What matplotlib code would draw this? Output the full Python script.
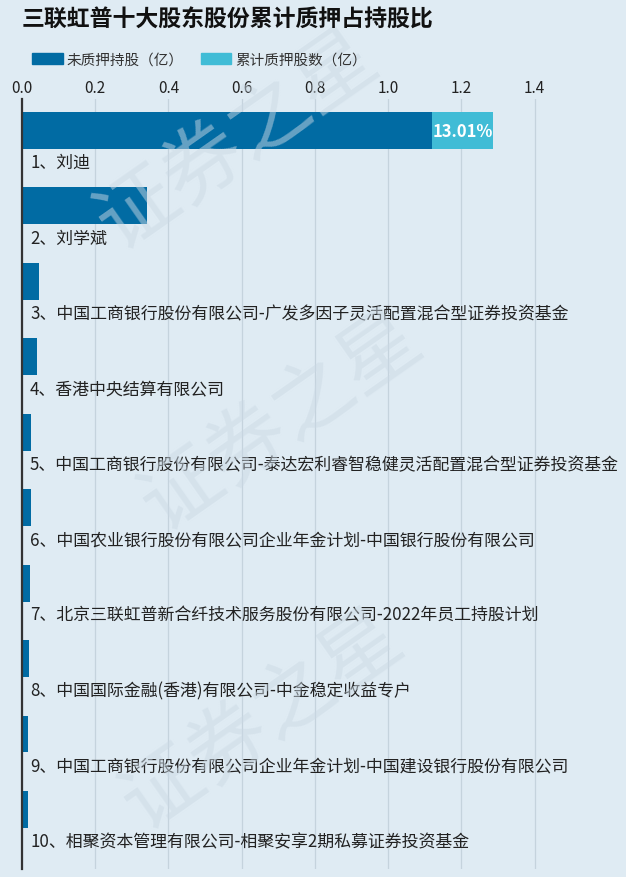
import matplotlib
matplotlib.use("Agg")
import matplotlib.pyplot as plt
from matplotlib.patches import Patch

plt.rcParams['font.family'] = ['Noto Sans CJK SC', 'DejaVu Sans']

# data (亿股)
holders = [
    "1、刘迪",
    "2、刘学斌",
    "3、中国工商银行股份有限公司-广发多因子灵活配置混合型证券投资基金",
    "4、香港中央结算有限公司",
    "5、中国工商银行股份有限公司-泰达宏利睿智稳健灵活配置混合型证券投资基金",
    "6、中国农业银行股份有限公司企业年金计划-中国银行股份有限公司",
    "7、北京三联虹普新合纤技术服务股份有限公司-2022年员工持股计划",
    "8、中国国际金融(香港)有限公司-中金稳定收益专户",
    "9、中国工商银行股份有限公司企业年金计划-中国建设银行股份有限公司",
    "10、相聚资本管理有限公司-相聚安享2期私募证券投资基金",
]
unpledged = [1.120, 0.341, 0.046, 0.041, 0.025, 0.025, 0.022, 0.020, 0.017, 0.017]
pledged = [0.167, 0, 0, 0, 0, 0, 0, 0, 0, 0]
pct_labels = ["13.01%", "", "", "", "", "", "", "", "", ""]
xticks = [0.0, 0.2, 0.4, 0.6, 0.8, 1.0, 1.2, 1.4]

bg = "#dfebf3"
c_dark = "#016ba3"
c_light = "#40bcd6"

fig = plt.figure(figsize=(6.26, 8.78), dpi=100, facecolor=bg)
ax = fig.add_axes([0.0351, 0.0091, 0.936, 0.877])
ax.set_facecolor(bg)

y = list(range(len(holders)))
ax.barh(y, unpledged, height=0.49, color=c_dark, zorder=3)
ax.barh(y, pledged, left=unpledged, height=0.49, color=c_light, zorder=3)

for i, name in enumerate(holders):
    ax.text(0.022, i + 0.42, name, fontsize=12.2, color="#222222", va="center", ha="left", zorder=4)
    if pct_labels[i]:
        ax.text(unpledged[i] + pledged[i], i, pct_labels[i], fontsize=12, fontweight="bold",
                color="white", va="center", ha="right", zorder=5)

ax.set_xlim(0, 1.6)
ax.set_ylim(9.79, -0.418)
ax.set_xticks(xticks)
ax.set_xticklabels([f"{t:.1f}" for t in xticks], fontsize=11, color="#222222")
ax.xaxis.tick_top()
ax.tick_params(axis="x", length=0, pad=2)
ax.set_yticks([])
ax.grid(axis="x", color="#c5d3dd", linewidth=0.9, zorder=0)
for s in ["top", "right", "bottom"]:
    ax.spines[s].set_visible(False)
ax.spines["left"].set_color("#333333")
ax.spines["left"].set_linewidth(1.6)
ax.spines["left"].set_zorder(6)

# watermark
for (wx, wy) in [(0.38, 0.84), (0.45, 0.52), (0.42, 0.18)]:
    fig.text(wx, wy, "证券之星", fontsize=58, color="#cbd9e4", alpha=0.5, rotation=35,
             ha="center", va="center", zorder=0)

fig.text(0.035, 0.977, "三联虹普十大股东股份累计质押占持股比", fontsize=16.5, fontweight="bold",
         color="#111111", ha="left", va="center")

handles = [Patch(color=c_dark), Patch(color=c_light)]
fig.legend(handles, ["未质押持股（亿）", "累计质押股数（亿）"], loc="center left",
           bbox_to_anchor=(0.03, 0.931), ncol=2, frameon=False, fontsize=10.5,
           handlelength=2.1, handleheight=0.8, handletextpad=0.25, columnspacing=1.2,
           labelcolor="#333333")

fig.savefig("out.png", dpi=100, facecolor=bg)
